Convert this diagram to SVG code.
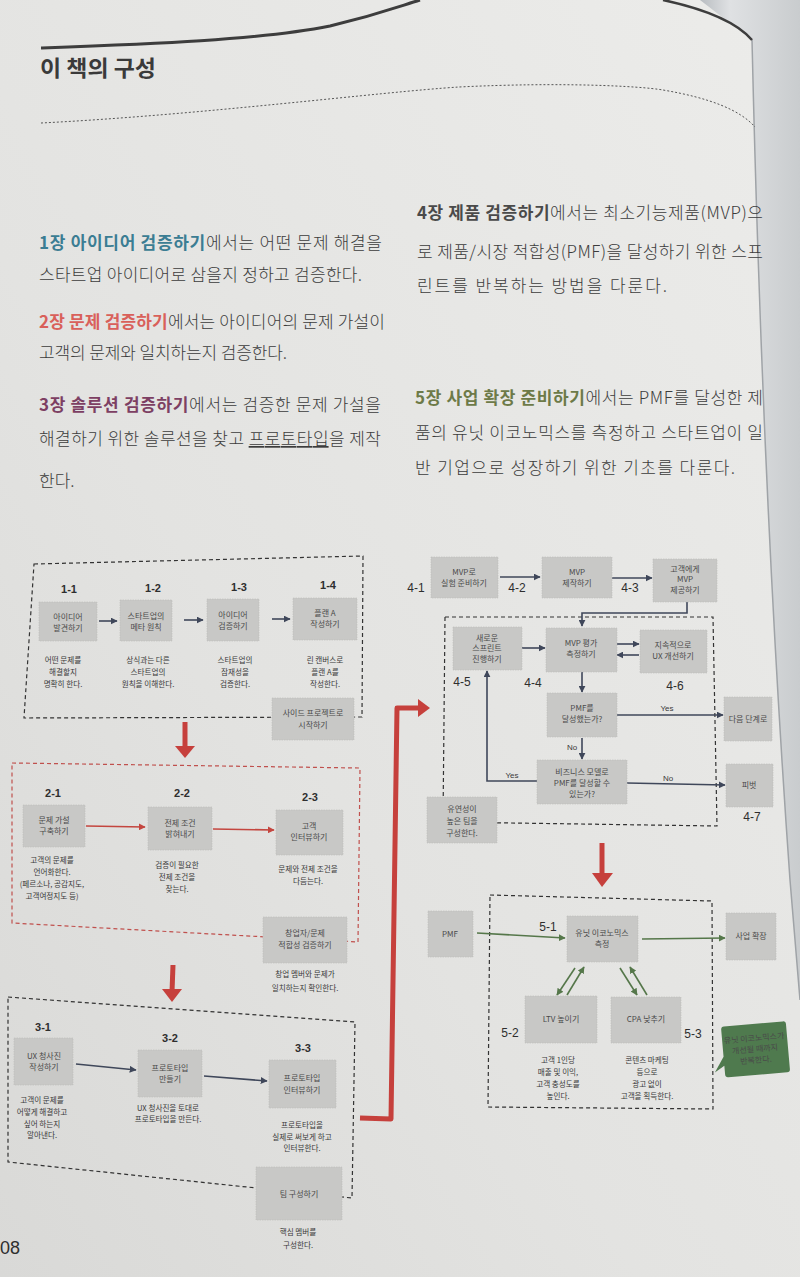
<svg xmlns="http://www.w3.org/2000/svg" width="800" height="1277" viewBox="0 0 800 1277">
<defs>
<linearGradient id="bg" x1="1" y1="0" x2="0" y2="1">
<stop offset="0" stop-color="#ececea"/>
<stop offset="0.6" stop-color="#e3e3e1"/>
<stop offset="1" stop-color="#d9d9d7"/>
</linearGradient>
<linearGradient id="edge" x1="0" y1="0" x2="1" y2="0">
<stop offset="0" stop-color="#b9bdc1"/>
<stop offset="0.3" stop-color="#dfe1e3"/>
<stop offset="1" stop-color="#c9ccce"/>
</linearGradient>
<marker id="aS" viewBox="0 0 10 10" refX="9" refY="5" markerWidth="7" markerHeight="7" markerUnits="userSpaceOnUse" orient="auto"><path d="M0,0 L10,5 L0,10 Z" fill="#3f475a"/></marker>
<marker id="aR" viewBox="0 0 10 10" refX="9" refY="5" markerWidth="7" markerHeight="7" markerUnits="userSpaceOnUse" orient="auto"><path d="M0,0 L10,5 L0,10 Z" fill="#c4463f"/></marker>
<marker id="aG" viewBox="0 0 10 10" refX="9" refY="5" markerWidth="7" markerHeight="7" markerUnits="userSpaceOnUse" orient="auto"><path d="M0,0 L10,5 L0,10 Z" fill="#55774a"/></marker>
</defs>
<style>
.kr{font-family:"Noto Sans CJK KR","Noto Sans",sans-serif}
.body{font-family:"Noto Sans CJK KR","Noto Sans",sans-serif;font-size:17px;fill:#3c3c3c;font-weight:300}
.hd{font-weight:700}
.box{fill:#c8c8c6;stroke:#bdbdbb;stroke-width:0.6;stroke-dasharray:1.5 1}
.bt{font-family:"Noto Sans CJK KR","Noto Sans",sans-serif;font-size:8px;fill:#4a4a4a;text-anchor:middle}
.ds{font-family:"Noto Sans CJK KR","Noto Sans",sans-serif;font-size:7.6px;fill:#3a3a3a;text-anchor:middle}
.lb{font-family:"Liberation Sans",Arial,sans-serif;font-size:11px;font-weight:700;fill:#2e2e2e;text-anchor:middle}
.lb2{font-family:"Liberation Sans",Arial,sans-serif;font-size:12px;fill:#2e2e2e;text-anchor:middle}
.yn{font-family:"Liberation Sans",Arial,sans-serif;font-size:8px;fill:#3a3a3a;text-anchor:middle}
.dk{fill:none;stroke:#333;stroke-width:1.2;stroke-dasharray:4 3}
.dr{fill:none;stroke:#c0504d;stroke-width:1.2;stroke-dasharray:4 3}
.cs{fill:none;stroke:#3f475a;stroke-width:1.6;marker-end:url(#aS)}
.cr{fill:none;stroke:#c4463f;stroke-width:1.6;marker-end:url(#aR)}
.cg{fill:none;stroke:#55774a;stroke-width:1.6;marker-end:url(#aG)}
.big{fill:none;stroke:#c6403c;stroke-width:5;stroke-linejoin:round}
.bh{fill:#c6403c}
</style>
<rect x="0" y="0" width="800" height="1277" fill="url(#bg)"/>
<path d="M752,40 C758,300 770,600 790,880 L800,1000 L800,0 L700,0 Z" fill="url(#edge)"/>
<path d="M752,40 C758,300 770,600 790,880 L800,1000" fill="none" stroke="#9fa3a7" stroke-width="1.5"/>
<path d="M41,48 C150,44 260,40 330,26 C380,14 400,6 420,0" fill="none" stroke="#3d3d3d" stroke-width="3"/>
<path d="M663,0 C700,8 735,20 752,40" fill="none" stroke="#3d3d3d" stroke-width="2.5"/>
<text x="40" y="76" class="kr" font-size="22" font-weight="700" fill="#3a3a3a" textLength="116" lengthAdjust="spacingAndGlyphs">이 책의 구성</text>
<path d="M41,123 C200,115 380,92 459,87 C560,82 640,86 663,90 C710,98 740,110 755,127" fill="none" stroke="#555" stroke-width="1" stroke-dasharray="2 2"/>

<g id="intro-left">
<text class="body" x="39" y="249" textLength="343" lengthAdjust="spacing"><tspan class="hd" fill="#3b7d93">1장 아이디어 검증하기</tspan>에서는 어떤 문제 해결을</text>
<text class="body" x="39" y="281" textLength="323" lengthAdjust="spacing">스타트업 아이디어로 삼을지 정하고 검증한다.</text>
<text class="body" x="39" y="328" textLength="346" lengthAdjust="spacing"><tspan class="hd" fill="#d9605a">2장 문제 검증하기</tspan>에서는 아이디어의 문제 가설이</text>
<text class="body" x="39" y="359" textLength="248" lengthAdjust="spacing">고객의 문제와 일치하는지 검증한다.</text>
<text class="body" x="39" y="411" textLength="342" lengthAdjust="spacing"><tspan class="hd" fill="#7d3f63">3장 솔루션 검증하기</tspan>에서는 검증한 문제 가설을</text>
<text class="body" x="39" y="445" textLength="342" lengthAdjust="spacing">해결하기 위한 솔루션을 찾고 <tspan text-decoration="underline">프로토타입</tspan>을 제작</text>
<text class="body" x="39" y="487">한다.</text>
</g>
<g id="intro-right">
<text class="body" x="417" y="219" textLength="346" lengthAdjust="spacing"><tspan class="hd" fill="#4a4a4a">4장 제품 검증하기</tspan>에서는 최소기능제품(MVP)으</text>
<text class="body" x="417" y="258" textLength="346" lengthAdjust="spacing">로 제품/시장 적합성(PMF)을 달성하기 위한 스프</text>
<text class="body" x="417" y="292" textLength="250" lengthAdjust="spacing">린트를 반복하는 방법을 다룬다.</text>
<text class="body" x="415" y="404" textLength="348" lengthAdjust="spacing"><tspan class="hd" fill="#6d7a48">5장 사업 확장 준비하기</tspan>에서는 PMF를 달성한 제</text>
<text class="body" x="415" y="439" textLength="348" lengthAdjust="spacing">품의 유닛 이코노믹스를 측정하고 스타트업이 일</text>
<text class="body" x="415" y="474" textLength="320" lengthAdjust="spacing">반 기업으로 성장하기 위한 기초를 다룬다.</text>
</g>

<g id="connectors">
<path class="dk" d="M34,564 L363,556 L362,717 L24,718 Z"/>
<path class="dr" d="M12,763 L360,768 L358,942 L12,923 Z"/>
<path class="dk" d="M8,997 L355,1022 L352,1198 L8,1162 Z"/>
<path class="dk" d="M445,617 L713,617 L717,826 L443,822 Z"/>
<path class="dk" d="M490,895 L712,901 L713,1109 L488,1107 Z"/>
<line class="cs" x1="99" y1="621" x2="117" y2="621"/>
<line class="cs" x1="184" y1="620" x2="203" y2="620"/>
<line class="cs" x1="272" y1="619" x2="290" y2="619"/>
<line class="cr" x1="86" y1="826" x2="145" y2="827"/>
<line class="cr" x1="213" y1="829" x2="274" y2="830"/>
<line class="cs" x1="76" y1="1064" x2="136" y2="1070"/>
<line class="cs" x1="204" y1="1076" x2="267" y2="1081"/>
<line class="cs" x1="500" y1="577" x2="540" y2="577"/>
<line class="cs" x1="612" y1="578" x2="652" y2="578"/>
<path class="cs" d="M687,602 L687,613 L582,613 L582,626"/>
<line class="cs" x1="522" y1="648" x2="545" y2="648"/>
<line class="cs" x1="617" y1="644" x2="639" y2="644"/>
<line class="cs" x1="639" y1="655" x2="617" y2="655"/>
<line class="cs" x1="582" y1="672" x2="582" y2="692"/>
<line class="cs" x1="617" y1="715" x2="723" y2="715"/>
<line class="cs" x1="582" y1="738" x2="582" y2="759"/>
<path class="cs" d="M537,781 L487,781 L487,671"/>
<line class="cs" x1="627" y1="783" x2="725" y2="785"/>
<line class="cg" x1="477" y1="933" x2="565" y2="938"/>
<line class="cg" x1="642" y1="939" x2="725" y2="938"/>
<line class="cg" x1="575" y1="968" x2="557" y2="995"/>
<line class="cg" x1="567" y1="995" x2="584" y2="967"/>
<line class="cg" x1="620" y1="968" x2="637" y2="995"/>
<line class="cg" x1="647" y1="995" x2="630" y2="967"/>
<path class="big" d="M185,722 L185,748"/>
<path class="bh" d="M175,746 L195,746 L185,758 Z"/>
<path class="big" d="M173,965 L172,992"/>
<path class="bh" d="M162,989 L182,989 L172,1002 Z"/>
<path class="big" d="M602,843 L602,875"/>
<path class="bh" d="M592,873 L613,873 L602,887 Z"/>
<path class="big" d="M360,1118 L391,1119 L397,708 L420,708"/>
<path class="bh" d="M418,699 L430,708 L418,717 Z"/>
</g>

<g id="n1-1"><text class="lb" x="69" y="593">1-1</text><rect class="box" x="39" y="602" width="58" height="39"/><text class="bt" x="68" y="620">아이디어</text><text class="bt" x="68" y="631">발견하기</text><text class="ds" x="63" y="663">어떤 문제를</text><text class="ds" x="63" y="675">해결할지</text><text class="ds" x="63" y="687">명확히 한다.</text></g>
<g id="n1-2"><text class="lb" x="153" y="592">1-2</text><rect class="box" x="120" y="600" width="52" height="41"/><text class="bt" x="146" y="619">스타트업의</text><text class="bt" x="146" y="630">메타 원칙</text><text class="ds" x="148" y="663">상식과는 다른</text><text class="ds" x="148" y="675">스타트업의</text><text class="ds" x="148" y="687">원칙을 이해한다.</text></g>
<g id="n1-3"><text class="lb" x="239" y="591">1-3</text><rect class="box" x="207" y="599" width="52" height="42"/><text class="bt" x="233" y="618">아이디어</text><text class="bt" x="233" y="629">검증하기</text><text class="ds" x="235" y="663">스타트업의</text><text class="ds" x="235" y="675">잠재성을</text><text class="ds" x="235" y="687">검증한다.</text></g>
<g id="n1-4"><text class="lb" x="328" y="589">1-4</text><rect class="box" x="293" y="598" width="64" height="42"/><text class="bt" x="325" y="616">플랜 A</text><text class="bt" x="325" y="627">작성하기</text><text class="ds" x="325" y="663">린 캔버스로</text><text class="ds" x="325" y="675">플랜 A를</text><text class="ds" x="325" y="687">작성한다.</text></g>
<g id="n1-side"><rect class="box" x="272" y="698" width="82" height="42"/><text class="bt" x="313" y="716">사이드 프로젝트로</text><text class="bt" x="313" y="728">시작하기</text></g>

<g id="n2-1"><text class="lb" x="53" y="797">2-1</text><rect class="box" x="23" y="805" width="62" height="42"/><text class="bt" x="54" y="823">문제 가설</text><text class="bt" x="54" y="834">구축하기</text><text class="ds" x="52" y="863">고객의 문제를</text><text class="ds" x="52" y="875">언어화한다.</text><text class="ds" x="52" y="887">(페르소나, 공감지도,</text><text class="ds" x="52" y="899">고객여정지도 등)</text></g>
<g id="n2-2"><text class="lb" x="182" y="797">2-2</text><rect class="box" x="148" y="807" width="64" height="43"/><text class="bt" x="180" y="826">전제 조건</text><text class="bt" x="180" y="837">밝혀내기</text><text class="ds" x="177" y="868">검증이 필요한</text><text class="ds" x="177" y="880">전제 조건을</text><text class="ds" x="177" y="892">찾는다.</text></g>
<g id="n2-3"><text class="lb" x="310" y="801">2-3</text><rect class="box" x="276" y="810" width="67" height="45"/><text class="bt" x="309" y="829">고객</text><text class="bt" x="309" y="840">인터뷰하기</text><text class="ds" x="308" y="872">문제와 전제 조건을</text><text class="ds" x="308" y="884">다듬는다.</text></g>
<g id="n2-side"><rect class="box" x="263" y="917" width="84" height="46"/><text class="bt" x="305" y="936">창업자/문제</text><text class="bt" x="305" y="948">적합성 검증하기</text><text class="ds" x="305" y="977">창업 멤버와 문제가</text><text class="ds" x="305" y="991">일치하는지 확인한다.</text></g>

<g id="n3-1"><text class="lb" x="43" y="1031">3-1</text><rect class="box" x="14" y="1038" width="59" height="47"/><text class="bt" x="44" y="1059">UX 청사진</text><text class="bt" x="44" y="1070">작성하기</text><text class="ds" x="42" y="1103">고객이 문제를</text><text class="ds" x="42" y="1115">어떻게 해결하고</text><text class="ds" x="42" y="1127">싶어 하는지</text><text class="ds" x="42" y="1138">알아낸다.</text></g>
<g id="n3-2"><text class="lb" x="170" y="1042">3-2</text><rect class="box" x="138" y="1050" width="64" height="47"/><text class="bt" x="170" y="1071">프로토타입</text><text class="bt" x="170" y="1082">만들기</text><text class="ds" x="168" y="1111">UX 청사진을 토대로</text><text class="ds" x="168" y="1122">프로토타입을 만든다.</text></g>
<g id="n3-3"><text class="lb" x="303" y="1052">3-3</text><rect class="box" x="269" y="1060" width="67" height="48"/><text class="bt" x="302" y="1081">프로토타입</text><text class="bt" x="302" y="1093">인터뷰하기</text><text class="ds" x="302" y="1128">프로토타입을</text><text class="ds" x="302" y="1140">실제로 써보게 하고</text><text class="ds" x="302" y="1151">인터뷰한다.</text></g>
<g id="n3-side"><rect class="box" x="256" y="1167" width="86" height="53"/><text class="bt" x="299" y="1197" font-size="8.5">팀 구성하기</text><text class="ds" x="298" y="1235">핵심 멤버를</text><text class="ds" x="298" y="1248">구성한다.</text></g>

<g id="n4-1"><text class="lb2" x="416" y="592">4-1</text><rect class="box" x="431" y="557" width="67" height="41"/><text class="bt" x="464" y="575">MVP로</text><text class="bt" x="464" y="586">실험 준비하기</text></g>
<g id="n4-2"><text class="lb2" x="517" y="592">4-2</text><rect class="box" x="542" y="557" width="70" height="41"/><text class="bt" x="577" y="575">MVP</text><text class="bt" x="577" y="586">제작하기</text></g>
<g id="n4-3"><text class="lb2" x="630" y="592">4-3</text><rect class="box" x="653" y="559" width="64" height="43"/><text class="bt" x="685" y="572">고객에게</text><text class="bt" x="685" y="582">MVP</text><text class="bt" x="685" y="593">제공하기</text></g>
<g id="n4-5"><rect class="box" x="453" y="627" width="69" height="43"/><text class="bt" x="487" y="641">새로운</text><text class="bt" x="487" y="651">스프린트</text><text class="bt" x="487" y="662">진행하기</text><text class="lb2" x="462" y="686">4-5</text></g>
<g id="n4-4"><rect class="box" x="546" y="628" width="71" height="44"/><text class="bt" x="581" y="646">MVP 평가</text><text class="bt" x="581" y="657">측정하기</text><text class="lb2" x="533" y="687">4-4</text></g>
<g id="n4-6"><rect class="box" x="640" y="630" width="67" height="43"/><text class="bt" x="673" y="648">지속적으로</text><text class="bt" x="673" y="659">UX 개선하기</text><text class="lb2" x="675" y="690">4-6</text></g>
<g id="n4-pmf"><rect class="box" x="547" y="693" width="70" height="44"/><text class="bt" x="582" y="711">PMF를</text><text class="bt" x="582" y="722">달성했는가?</text><text class="yn" x="667" y="711">Yes</text><text class="yn" x="572" y="750">No</text></g>
<g id="n4-next"><rect class="box" x="724" y="697" width="48" height="44"/><text class="bt" x="748" y="722" font-size="7.5">다음 단계로</text></g>
<g id="n4-bm"><rect class="box" x="537" y="760" width="90" height="44"/><text class="bt" x="582" y="775">비즈니스 모델로</text><text class="bt" x="582" y="786">PMF를 달성할 수</text><text class="bt" x="582" y="797">있는가?</text><text class="yn" x="512" y="778">Yes</text><text class="yn" x="668" y="781">No</text></g>
<g id="n4-7"><rect class="box" x="726" y="764" width="47" height="43"/><text class="bt" x="749" y="788" font-size="7.5">피벗</text><text class="lb2" x="752" y="821">4-7</text></g>
<g id="n4-team"><rect class="box" x="427" y="797" width="70" height="46"/><text class="bt" x="462" y="812" font-size="8.5">유연성이</text><text class="bt" x="462" y="824" font-size="8.5">높은 팀을</text><text class="bt" x="462" y="836" font-size="8.5">구성한다.</text></g>

<g id="n5-pmf"><rect class="box" x="428" y="911" width="45" height="46"/><text class="bt" x="450" y="937">PMF</text></g>
<g id="n5-1"><text class="lb2" x="548" y="931">5-1</text><rect class="box" x="567" y="916" width="71" height="46"/><text class="bt" x="602" y="936">유닛 이코노믹스</text><text class="bt" x="602" y="947">측정</text></g>
<g id="n5-biz"><rect class="box" x="726" y="913" width="50" height="47"/><text class="bt" x="751" y="939">사업 확장</text></g>
<g id="n5-2"><rect class="box" x="525" y="996" width="72" height="47"/><text class="bt" x="561" y="1022">LTV 높이기</text><text class="lb2" x="510" y="1037">5-2</text><text class="ds" x="558" y="1063">고객 1인당</text><text class="ds" x="558" y="1075">매출 및 이익,</text><text class="ds" x="558" y="1087">고객 충성도를</text><text class="ds" x="558" y="1099">높인다.</text></g>
<g id="n5-3"><rect class="box" x="611" y="997" width="70" height="46"/><text class="bt" x="646" y="1022">CPA 낮추기</text><text class="lb2" x="693" y="1038">5-3</text><text class="ds" x="647" y="1063">콘텐츠 마케팅</text><text class="ds" x="647" y="1075">등으로</text><text class="ds" x="647" y="1087">광고 없이</text><text class="ds" x="647" y="1099">고객을 획득한다.</text></g>
<g id="n5-note" transform="rotate(-5 754 1049)"><path d="M726,1024 L785,1024 Q788,1024 788,1027 L788,1072 Q788,1075 785,1075 L726,1075 Q723,1075 723,1072 L723,1063 L713,1069 L723,1054 L723,1027 Q723,1024 726,1024 Z" fill="#4f7a4e"/><text class="bt" x="755" y="1041" fill="#eef2ea" font-size="7">유닛 이코노믹스가</text><text class="bt" x="755" y="1052" fill="#eef2ea" font-size="7">개선될 때까지</text><text class="bt" x="755" y="1063" fill="#eef2ea" font-size="7">반복한다.</text></g>

<text x="0" y="1254" font-family="Liberation Sans, Arial, sans-serif" font-size="18" fill="#2e2e2e">08</text>
</svg>
